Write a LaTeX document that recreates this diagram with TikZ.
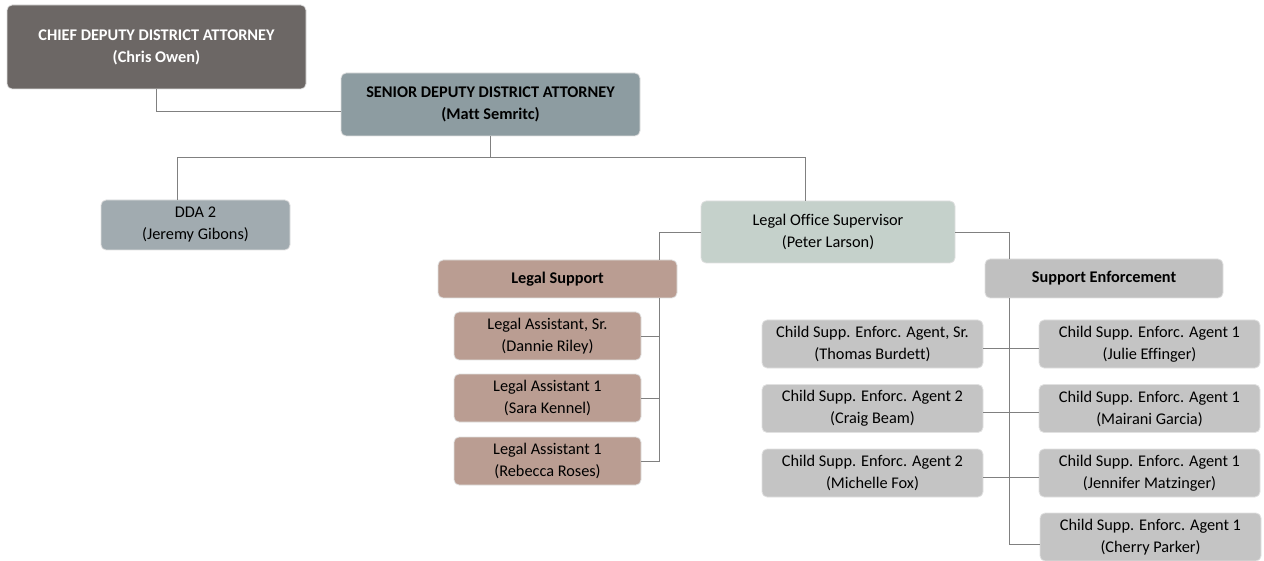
\documentclass[tikz,border=0pt]{standalone}
\usepackage{fontspec}
\setmainfont{Carlito}[Ligatures=NoCommon]
\definecolor{chiefc}{RGB}{108,103,101}
\definecolor{seniorc}{RGB}{141,156,161}
\definecolor{ddac}{RGB}{161,171,176}
\definecolor{losc}{RGB}{197,209,203}
\definecolor{legalc}{RGB}{186,157,146}
\definecolor{sec}{RGB}{192,192,192}
\definecolor{agentc}{RGB}{196,196,196}
\definecolor{linec}{RGB}{128,128,128}
\definecolor{edgec}{RGB}{225,225,225}
\begin{document}
\begin{tikzpicture}[x=1pt,y=-1pt,
  box/.style={rectangle, rounded corners=5pt, draw=edgec, line width=0.8pt,
    align=center, inner sep=0pt, font=\fontsize{16.3}{22}\selectfont},
  bbox/.style={box, font=\fontsize{16.3}{22}\selectfont\bfseries},
  conn/.style={draw=linec, line width=0.9pt}]
\useasboundingbox (0,0) rectangle (1264,561);
% nodes
\node[bbox, fill=chiefc, text=white, minimum width=299pt, minimum height=84pt] (chief) at (156.5,47) {CHIEF DEPUTY DISTRICT ATTORNEY\\(Chris Owen)};
\node[bbox, fill=seniorc, minimum width=299pt, minimum height=63pt] (senior) at (490.5,104.5) {SENIOR DEPUTY DISTRICT ATTORNEY\\(Matt Semritc)};
\node[box, fill=ddac, minimum width=189pt, minimum height=50pt] (dda) at (195.5,225) {DDA 2\\(Jeremy Gibons)};
\node[box, fill=losc, minimum width=254pt, minimum height=62pt] (los) at (828,232) {Legal Office Supervisor\\(Peter Larson)};
\node[bbox, fill=legalc, minimum width=239pt, minimum height=38pt] (legal) at (557.5,279) {Legal Support};
\node[box, fill=legalc, minimum width=187pt, minimum height=48pt] (la1) at (547.5,336) {Legal Assistant, Sr.\\(Dannie Riley)};
\node[box, fill=legalc, minimum width=187pt, minimum height=48pt] (la2) at (547.5,398) {Legal Assistant 1\\(Sara Kennel)};
\node[box, fill=legalc, minimum width=187pt, minimum height=48pt] (la3) at (547.5,461) {Legal Assistant 1\\(Rebecca Roses)};
\node[bbox, fill=sec, minimum width=238pt, minimum height=39pt] (se) at (1104,278.5) {Support Enforcement};
\node[box, fill=agentc, minimum width=221pt, minimum height=48pt] (a1) at (872.5,344) {Child Supp. Enforc. Agent, Sr.\\(Thomas Burdett)};
\node[box, fill=agentc, minimum width=221pt, minimum height=48pt] (a2) at (872.5,408.5) {Child Supp. Enforc. Agent 2\\(Craig Beam)};
\node[box, fill=agentc, minimum width=221pt, minimum height=48pt] (a3) at (872.5,473) {Child Supp. Enforc. Agent 2\\(Michelle Fox)};
\node[box, fill=agentc, minimum width=221pt, minimum height=48pt] (b1) at (1149.5,344) {Child Supp. Enforc. Agent 1\\(Julie Effinger)};
\node[box, fill=agentc, minimum width=221pt, minimum height=48pt] (b2) at (1149.5,408.5) {Child Supp. Enforc. Agent 1\\(Mairani Garcia)};
\node[box, fill=agentc, minimum width=221pt, minimum height=48pt] (b3) at (1149.5,473) {Child Supp. Enforc. Agent 1\\(Jennifer Matzinger)};
\node[box, fill=agentc, minimum width=221pt, minimum height=48pt] (b4) at (1150.5,537) {Child Supp. Enforc. Agent 1\\(Cherry Parker)};
% junctions
\coordinate (j1) at (177,157);
\coordinate (j2) at (805,157);
\coordinate (lv) at (659,232);
\coordinate (sv) at (1009,544);
% connectors
\draw[conn] (chief.south) |- ([yshift=-7pt]senior.west);
\draw[conn] (senior.south) -- (senior.south |- j1);
\draw[conn] (j1 |- dda.north) -- (j1) -- (j2) -- (j2 |- los.north);
\draw[conn] (los.west) -| (lv |- legal.north);
\draw[conn] (lv |- legal.south) -- (lv |- la3.east) -- (la3.east);
\draw[conn] (la1.east) -- (lv |- la1.east);
\draw[conn] (la2.east) -- (lv |- la2.east);
\draw[conn] (los.east) -| (sv |- se.north);
\draw[conn] (sv |- se.south) -- (sv) -- (sv -| b4.west);
\draw[conn] ([yshift=-4pt]a1.east) -- ([yshift=-4pt]b1.west);
\draw[conn] ([yshift=-4pt]a2.east) -- ([yshift=-4pt]b2.west);
\draw[conn] ([yshift=-4pt]a3.east) -- ([yshift=-4pt]b3.west);
\end{tikzpicture}
\end{document}
